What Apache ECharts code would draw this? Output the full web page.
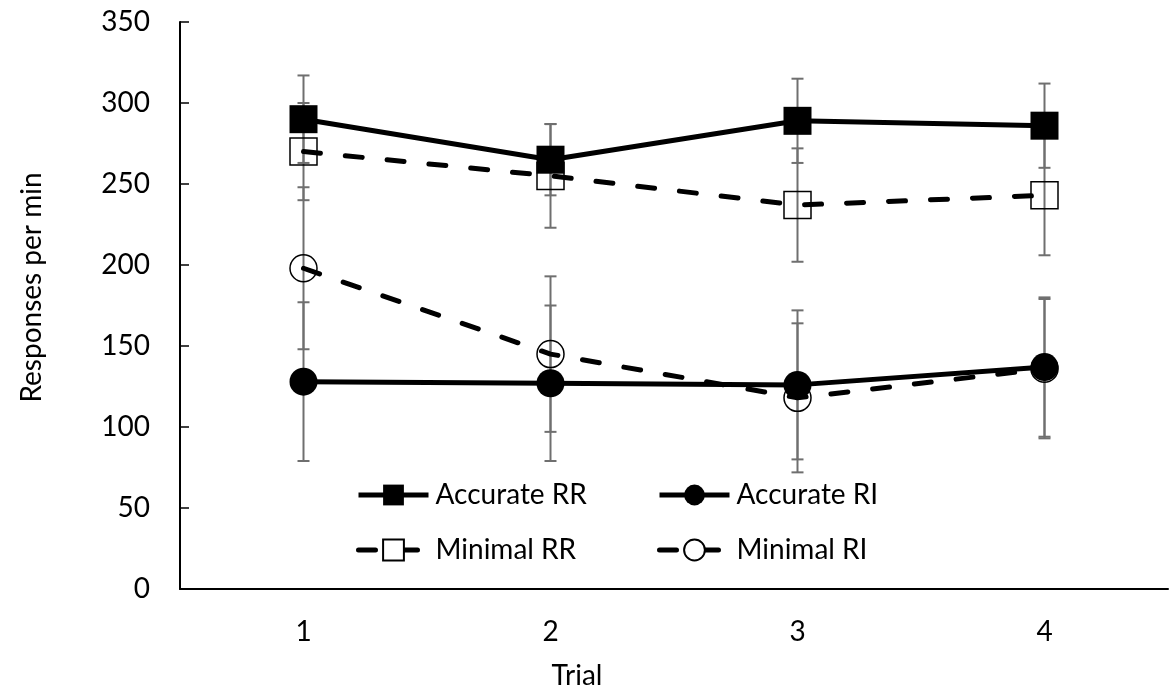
<!DOCTYPE html>
<html>
<head>
<meta charset="utf-8">
<script src="https://cdn.jsdelivr.net/npm/echarts@6/dist/echarts.min.js"></script>
<style>
  html, body { margin: 0; padding: 0; background: #fff; }
  #chart { width: 1169px; height: 699px; }
</style>
</head>
<body>
<div id="chart"></div>
<script>
// trial responses, means and error bar half-widths
var trials = ['1', '2', '3', '4'];
var yTicks = [0, 50, 100, 150, 200, 250, 300, 350];

var accurateRR = [290, 265, 289, 286];
var accurateRRErr = [27, 22, 26, 26];
var minimalRR = [270, 255, 237, 243];
var minimalRRErr = [30, 32, 35, 37];
var accurateRI = [128, 127, 126, 137];
var accurateRIErr = [49, 48, 46, 43];
var minimalRI = [198, 145, 118, 136];
var minimalRIErr = [50, 48, 46, 43];

var font = 'Lato';
var fs = 28;

function errData(vals, errs) {
    return vals.map(function (v, i) { return [i, v - errs[i], v + errs[i]]; });
}

function renderErr(params, api) {
    var x = api.value(0);
    var lo = api.coord([x, api.value(1)]);
    var hi = api.coord([x, api.value(2)]);
    var w = 6;
    var style = { stroke: '#6f6f6f', lineWidth: 2 };
    return {
        type: 'group',
        children: [
            { type: 'line', shape: { x1: hi[0], y1: hi[1], x2: lo[0], y2: lo[1] }, style: style },
            { type: 'line', shape: { x1: hi[0] - w, y1: hi[1], x2: hi[0] + w, y2: hi[1] }, style: style },
            { type: 'line', shape: { x1: lo[0] - w, y1: lo[1], x2: lo[0] + w, y2: lo[1] }, style: style }
        ]
    };
}

function errSeries(vals, errs) {
    return {
        type: 'custom',
        renderItem: renderErr,
        data: errData(vals, errs),
        z: 1,
        silent: true
    };
}

var solid = { color: '#000', width: 5 };
var dashed = { color: '#000', width: 5, type: [17, 25], cap: 'round' };

function legendBox(left, names) {
    return {
        left: left,
        top: 476,
        orient: 'vertical',
        itemWidth: 70,
        itemHeight: 26,
        itemGap: 27,
        lineStyle: { width: 5 },
        textStyle: { fontSize: fs, color: '#000', fontFamily: font, padding: [0, 0, 0, 2] },
        data: [names[0], { name: names[1], itemStyle: { color: '#fff' } }]
    };
}

var myChart = echarts.init(document.getElementById('chart'));

var option = {
    animation: false,
    textStyle: { fontFamily: font },
    grid: {
        left: 180,
        right: 1,
        top: 22,
        bottom: 110
    },
    legend: [
        legendBox(351, ['Accurate RR', 'Minimal RR']),
        legendBox(652, ['Accurate RI', 'Minimal RI'])
    ],
    graphic: [{
        type: 'text',
        x: 577,
        y: 676,
        style: { text: 'Trial', font: fs + 'px ' + font, fill: '#000', align: 'center', verticalAlign: 'middle' }
    }],
    xAxis: {
        type: 'category',
        data: trials,
        boundaryGap: true,
        axisLine: { lineStyle: { color: '#000', width: 2 } },
        axisTick: { alignWithLabel: true, inside: true, length: 7, lineStyle: { color: '#000', width: 1.5 } },
        axisLabel: { fontSize: fs, color: '#000', margin: 29 },
        splitLine: { show: false }
    },
    yAxis: {
        type: 'value',
        min: yTicks[0],
        max: yTicks[yTicks.length - 1],
        interval: 50,
        name: 'Responses per min',
        nameLocation: 'middle',
        nameRotate: 90,
        nameGap: 134,
        nameTextStyle: { fontSize: fs, color: '#000', padding: [0, 0, 0, 36] },
        axisLine: { show: true, lineStyle: { color: '#000', width: 2 } },
        axisTick: { show: true, inside: true, length: 9, lineStyle: { color: '#000', width: 1.5 } },
        axisLabel: { fontSize: fs, color: '#000', margin: 30 },
        splitLine: { show: false }
    },
    series: [
        errSeries(accurateRR, accurateRRErr),
        errSeries(minimalRR, minimalRRErr),
        errSeries(accurateRI, accurateRIErr),
        errSeries(minimalRI, minimalRIErr),
        {
            name: 'Minimal RI',
            type: 'line',
            data: minimalRI,
            symbol: 'circle',
            symbolSize: 27,
            lineStyle: dashed,
            itemStyle: { color: 'transparent', borderColor: '#000', borderWidth: 1.5 },
            z: 3
        },
        {
            name: 'Minimal RR',
            type: 'line',
            data: minimalRR,
            symbol: 'rect',
            symbolSize: 27,
            lineStyle: dashed,
            itemStyle: { color: 'transparent', borderColor: '#000', borderWidth: 1.5 },
            z: 4
        },
        {
            name: 'Accurate RI',
            type: 'line',
            data: accurateRI,
            symbol: 'circle',
            symbolSize: 28,
            lineStyle: solid,
            itemStyle: { color: '#000' },
            z: 5
        },
        {
            name: 'Accurate RR',
            type: 'line',
            data: accurateRR,
            symbol: 'rect',
            symbolSize: 28,
            lineStyle: solid,
            itemStyle: { color: '#000' },
            z: 6
        }
    ]
};

myChart.setOption(option);
</script>
</body>
</html>
